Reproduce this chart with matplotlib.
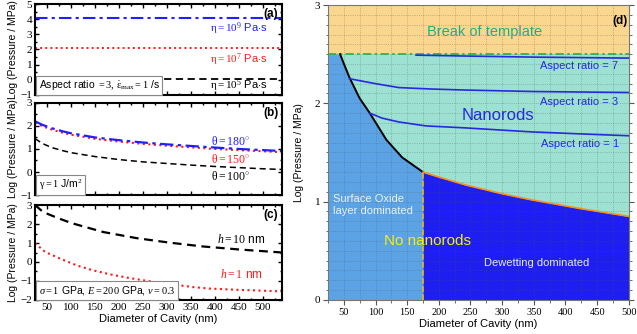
import matplotlib
matplotlib.use("Agg")
import matplotlib.pyplot as plt
from matplotlib.ticker import MultipleLocator

plt.rcParams['font.family'] = ['Liberation Sans', 'DejaVu Sans']
plt.rcParams['mathtext.fontset'] = 'custom'
plt.rcParams['mathtext.rm'] = 'Liberation Serif'
plt.rcParams['mathtext.it'] = 'Liberation Serif:italic'
plt.rcParams['mathtext.default'] = 'rm'

# panel (a): viscosity, constant pressure
diam_a = [25, 540]
eta_labels = [r'$\eta = 10^{5}$ Pa$\cdot$s', r'$\eta = 10^{7}$ Pa$\cdot$s', r'$\eta = 10^{9}$ Pa$\cdot$s']
eta_logp = [0.05, 2.07, 4.1]
eta_label_y = [-0.39, 1.32, 3.36]

# panel (b): contact angle
diam_b = [25, 40, 60, 80, 100, 150, 200, 250, 300, 350, 400, 450, 500, 540]
theta180 = [2.2, 2.05, 1.9, 1.78, 1.68, 1.5, 1.38, 1.28, 1.2, 1.13, 1.06, 1.0, 0.95, 0.91]
theta150 = [2.14, 1.99, 1.84, 1.72, 1.62, 1.44, 1.32, 1.22, 1.14, 1.07, 1.0, 0.95, 0.9, 0.86]
theta100 = [1.45, 1.24, 1.06, 0.94, 0.84, 0.67, 0.54, 0.44, 0.37, 0.30, 0.24, 0.19, 0.14, 0.11]
theta_labels = [r'$\theta = 100^{\circ}$', r'$\theta = 150^{\circ}$', r'$\theta = 180^{\circ}$']
theta_label_y = [-0.2, 0.53, 1.33]

# panel (c): oxide layer thickness
diam_h10 = [25, 42, 71, 101, 167, 236, 305, 374, 450, 540]
h10 = [3.0, 2.63, 2.33, 2.05, 1.58, 1.26, 1.02, 0.82, 0.66, 0.5]
diam_h1 = [25, 30, 46, 77, 112, 146, 181, 216, 250, 284, 320, 353, 388, 450, 540]
h1 = [1.0, 0.88, 0.53, 0.18, -0.18, -0.44, -0.65, -0.82, -0.96, -1.09, -1.21, -1.32, -1.40, -1.47, -1.55]

# panel (d): regime map
break_level = 2.5
oxide_D = [44, 52, 59, 75, 91, 117, 142, 175]
oxide_P = [2.5, 2.37, 2.26, 2.05, 1.90, 1.63, 1.45, 1.30]
dewet_D = [175, 200, 242, 300, 345, 423, 500]
dewet_P = [1.30, 1.25, 1.17, 1.08, 1.02, 0.93, 0.85]
ar7_D = [164, 250, 350, 500]
ar7_P = [2.49, 2.48, 2.47, 2.46]
ar3_D = [59, 100, 137, 190, 242, 350, 500]
ar3_P = [2.25, 2.2, 2.16, 2.145, 2.135, 2.12, 2.11]
ar1_D = [91, 110, 137, 180, 242, 345, 420, 500]
ar1_P = [1.90, 1.85, 1.81, 1.77, 1.75, 1.71, 1.69, 1.67]

blue = '#1f1fff'
red = '#ff1a1a'

fig = plt.figure(figsize=(6.37, 3.34), dpi=100)
ax_a = fig.add_axes([0.055, 0.716, 0.388, 0.272])
ax_b = fig.add_axes([0.055, 0.416, 0.388, 0.276])
ax_c = fig.add_axes([0.055, 0.102, 0.388, 0.284])
ax_d = fig.add_axes([0.515, 0.102, 0.472, 0.883])


def serif_ticks(ax):
    for lab in ax.get_xticklabels() + ax.get_yticklabels():
        lab.set_fontfamily('Liberation Serif')
        lab.set_fontsize(8)


def left_style(ax, ylim, tag):
    ax.set_xlim(25, 540)
    ax.set_ylim(*ylim)
    ax.xaxis.set_major_locator(MultipleLocator(50))
    ax.xaxis.set_minor_locator(MultipleLocator(25))
    ax.yaxis.set_major_locator(MultipleLocator(1))
    ax.yaxis.set_minor_locator(MultipleLocator(0.5))
    ax.tick_params(which='both', direction='in', top=True, right=True, width=1)
    ax.tick_params(which='major', length=3, pad=2)
    ax.tick_params(which='minor', length=1.5)
    for s in ax.spines.values():
        s.set_linewidth(1.5)
    ax.set_ylabel('Log (Pressure / MPa)', fontsize=7.5, labelpad=2)
    ax.text(0.985, 0.96, tag, transform=ax.transAxes, ha='right', va='top',
            fontsize=8.5, fontweight='bold')


box = dict(boxstyle='square,pad=0.25', fc='white', ec='#888888', lw=0.8)

# (a)
styles = [('black', (0, (4, 2.5)), 1.3), (red, ':', 1.4), (blue, (0, (6, 2, 1.5, 2)), 1.5)]
for v, ly, lab, (c, ls, lw) in zip(eta_logp, eta_label_y, eta_labels, styles):
    ax_a.plot(diam_a, [v, v], color=c, ls=ls, lw=lw)
    ax_a.text(450, ly, lab, color=c, ha='center', va='center', fontsize=8)
left_style(ax_a, (-1, 5), '(a)')
ax_a.set_xticklabels([])
ax_a.text(0.015, 0.03, r'Aspect ratio $= 3,\, \dot{\varepsilon}_{\mathrm{max}} = 1$ /s',
          transform=ax_a.transAxes, fontsize=7.5, va='bottom', ha='left', bbox=box)

# (b)
ax_b.plot(diam_b, theta100, color='black', ls=(0, (4, 2.5)), lw=1.1)
ax_b.plot(diam_b, theta150, color=red, ls=':', lw=1.5)
ax_b.plot(diam_b, theta180, color=blue, ls=(0, (6, 2, 1.5, 2)), lw=1.6)
for ly, lab, c in zip(theta_label_y, theta_labels, ['black', red, blue]):
    ax_b.text(432, ly, lab, color=c, ha='center', va='center', fontsize=8.5)
left_style(ax_b, (-1, 3), '(b)')
ax_b.set_xticklabels([])
ax_b.text(0.015, 0.03, r'$\gamma = 1$ J/m$^2$', transform=ax_b.transAxes,
          fontsize=7.5, va='bottom', ha='left', bbox=box)

# (c)
ax_c.plot(diam_h10, h10, color='black', ls=(0, (4, 2.5)), lw=1.6)
ax_c.plot(diam_h1, h1, color=red, ls=':', lw=1.5)
ax_c.text(455, 1.2, r'$\mathit{h} = 10$ nm', color='black', ha='center', va='center', fontsize=8.5)
ax_c.text(455, -0.65, r'$\mathit{h} = 1$ nm', color=red, ha='center', va='center', fontsize=8.5)
left_style(ax_c, (-2, 3), '(c)')
ax_c.set_xlabel('Diameter of Cavity (nm)', fontsize=8, labelpad=2)
ax_c.text(0.015, 0.03, r'$\mathit{\sigma} = 1$ GPa, $\mathit{E} = 200$ GPa, $\mathit{\nu} = 0.3$',
          transform=ax_c.transAxes, fontsize=7.5, va='bottom', ha='left', bbox=box)
for ax in (ax_a, ax_b, ax_c):
    serif_ticks(ax)

# (d)
ax_d.set_xlim(25, 500)
ax_d.set_ylim(0, 3)
ax_d.axhspan(break_level, 3, color='#fbd68e', lw=0)
ax_d.axhspan(0, break_level, color='#9ce1d2', lw=0)
ax_d.fill_between([25] + oxide_D, 0, [break_level] + oxide_P, color='#5ca3e6', lw=0)
ax_d.fill_between(dewet_D, 0, dewet_P, color='#1e1ef0', lw=0)
ax_d.axhline(break_level, color='#2fae3a', ls=(0, (5, 2, 1.5, 2)), lw=1.2)
ax_d.plot(oxide_D, oxide_P, color='black', lw=1.4)
ax_d.plot(dewet_D, dewet_P, color='#ff8c1a', lw=1.2)
ax_d.plot([dewet_D[0], dewet_D[0]], [0, dewet_P[0]], color='#f5b800', ls='--', lw=1.1)
for xs, ys in ((ar7_D, ar7_P), (ar3_D, ar3_P), (ar1_D, ar1_P)):
    ax_d.plot(xs, ys, color='#2828e0', lw=1.2)

ax_d.xaxis.set_major_locator(MultipleLocator(50))
ax_d.xaxis.set_minor_locator(MultipleLocator(25))
ax_d.yaxis.set_major_locator(MultipleLocator(1))
ax_d.yaxis.set_minor_locator(MultipleLocator(0.1))
ax_d.grid(which='both', color='#555555', ls=':', lw=0.6, alpha=0.45)
ax_d.tick_params(which='both', direction='out', right=True, color='#555555')
ax_d.tick_params(which='major', length=3.5, pad=2)
ax_d.tick_params(which='minor', length=1.8)
for s in ax_d.spines.values():
    s.set_color('#777777')
    s.set_linewidth(0.8)
ax_d.set_xlabel('Diameter of Cavity (nm)', fontsize=8, labelpad=2)
ax_d.set_ylabel('Log (Pressure / MPa)', fontsize=7.5, labelpad=8)
serif_ticks(ax_d)
for lab in ax_d.get_xticklabels():
    lab.set_fontsize(7.5)

ax_d.text(0.995, 0.965, '(d)', transform=ax_d.transAxes, ha='right', va='top',
          fontsize=8.5, fontweight='bold')
ax_d.text(273, 2.73, 'Break of template', color='#27a98c', ha='center', va='center', fontsize=10.5)
ax_d.text(422, 2.38, 'Aspect ratio = 7', color='#2828e0', ha='center', va='center', fontsize=8)
ax_d.text(422, 2.01, 'Aspect ratio = 3', color='#2828e0', ha='center', va='center', fontsize=8)
ax_d.text(423, 1.59, 'Aspect ratio = 1', color='#2828e0', ha='center', va='center', fontsize=8)
ax_d.text(294, 1.88, 'Nanorods', color='#2828e0', ha='center', va='center', fontsize=12)
ax_d.text(33, 0.97, 'Surface Oxide\nlayer dominated', color='#e8f2ff', ha='left',
          va='center', fontsize=8, linespacing=1.25)
ax_d.text(113, 0.6, 'No nanorods', color='#f2f200', ha='left', va='center', fontsize=11)
ax_d.text(355, 0.38, 'Dewetting dominated', color='#e8ecff', ha='center', va='center', fontsize=8)

fig.savefig('out.png', dpi=100)
